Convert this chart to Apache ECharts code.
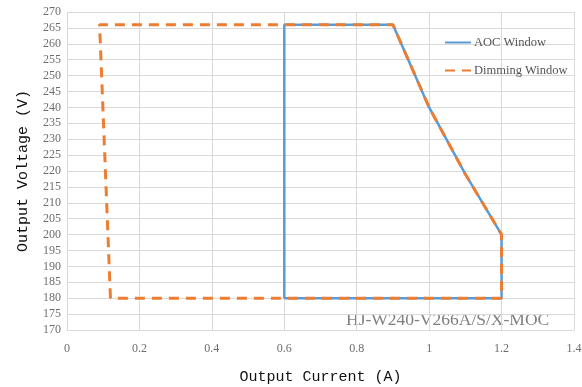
<!DOCTYPE html>
<html>
<head>
<meta charset="utf-8">
<script src="https://cdn.jsdelivr.net/npm/echarts@6/dist/echarts.min.js"></script>
<style>
html,body{margin:0;padding:0;background:#fff;}
#chart{width:582px;height:387px;}
</style>
</head>
<body>
<div id="chart"></div>
<script>
// Data
var seriesNames = ['AOC Window', 'Dimming Window'];
var aocCurrent = [0.6, 0.6, 0.9, 1.0, 1.1, 1.2, 1.2, 0.6];
var aocVoltage = [180, 266, 266, 240, 219, 200, 180, 180];
var dimCurrent = [0.12, 0.09, 0.9, 1.0, 1.1, 1.2, 1.2, 0.12];
var dimVoltage = [180, 266, 266, 240, 219, 200, 180, 180];
var xTitle = 'Output Current (A)';
var yTitle = 'Output Voltage (V)';
var modelLabel = 'HJ-W240-V266A/S/X-MOC';

function pairs(xs, ys) { return xs.map(function (x, i) { return [x, ys[i]]; }); }

var chart = echarts.init(document.getElementById('chart'));
var gridColor = '#d9d9d9';
var labelColor = '#6e6e6e';
var serif = '"Liberation Serif", "DejaVu Serif", serif';
var mono = '"Liberation Mono", "DejaVu Sans Mono", monospace';

chart.setOption({
  animation: false,
  backgroundColor: '#fff',
  grid: { left: 67, right: 8, top: 12, bottom: 57, containLabel: false, outerBoundsMode: 'none' },
  legend: {
    orient: 'vertical',
    left: 439, top: 31,
    itemWidth: 26, itemHeight: 12, itemGap: 15,
    data: seriesNames,
    itemStyle: { opacity: 0 },
    textStyle: { fontFamily: serif, fontSize: 12.5, color: '#555', padding: [0, 0, 0, -2] }
  },
  xAxis: {
    type: 'value', min: 0, max: 1.4, interval: 0.2,
    name: xTitle, nameLocation: 'middle', nameGap: 40,
    nameTextStyle: { fontFamily: mono, fontSize: 15, color: '#111' },
    axisLine: { show: true, lineStyle: { color: gridColor } },
    axisTick: { show: false },
    axisLabel: { fontFamily: serif, fontSize: 12, color: labelColor, margin: 13 },
    splitLine: { show: true, lineStyle: { color: gridColor } }
  },
  yAxis: {
    type: 'value', min: 170, max: 270, interval: 5,
    name: yTitle, nameLocation: 'middle', nameGap: 36,
    nameTextStyle: { fontFamily: mono, fontSize: 15, color: '#111' },
    axisLine: { show: true, lineStyle: { color: gridColor } },
    axisTick: { show: false },
    axisLabel: { fontFamily: serif, fontSize: 12, color: labelColor, margin: 6 },
    splitLine: { show: true, lineStyle: { color: gridColor } }
  },
  graphic: [{
    type: 'text', left: 346, top: 311,
    style: { text: modelLabel, font: '17.5px "Liberation Serif", serif', fill: '#808080' }
  }],
  series: [{
    name: seriesNames[0], type: 'line',
    data: pairs(aocCurrent, aocVoltage),
    showSymbol: false, symbol: 'none',
    lineStyle: { color: '#5b9bd5', width: 2.5 },
    itemStyle: { color: '#5b9bd5' }
  }, {
    name: seriesNames[1], type: 'line',
    data: pairs(dimCurrent, dimVoltage),
    showSymbol: false, symbol: 'none',
    lineStyle: { color: '#ed7d31', width: 3, type: [10, 7] },
    itemStyle: { color: '#ed7d31' }
  }]
});
</script>
</body>
</html>
